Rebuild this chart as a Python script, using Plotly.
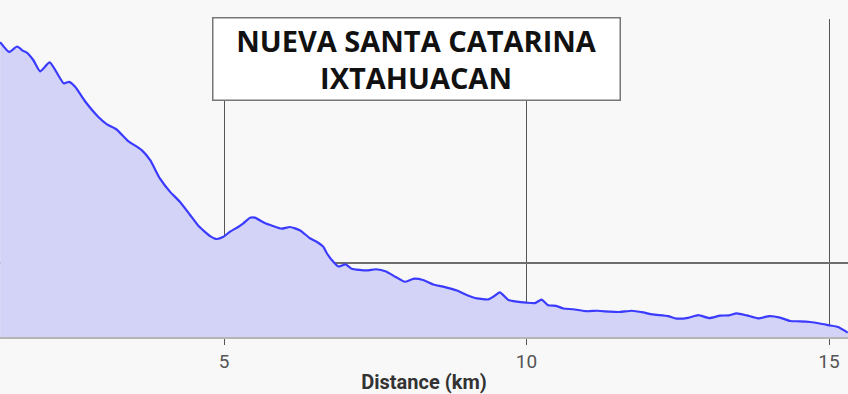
import plotly.graph_objects as go

distance_km = [
    1.30, 1.45, 1.58, 1.68, 1.74, 1.85, 1.96, 2.12, 2.35, 2.44, 2.54, 2.70, 2.92, 3.06, 3.23,
    3.41, 3.64, 3.78, 3.94, 4.11, 4.27, 4.44, 4.58, 4.77, 4.88, 4.99, 5.10, 5.24, 5.32, 5.43,
    5.51, 5.68, 5.81, 5.95, 6.09, 6.26, 6.42, 6.55, 6.64, 6.70, 6.81, 6.89, 7.01, 7.11, 7.36,
    7.51, 7.68, 7.84, 7.99, 8.13, 8.29, 8.46, 8.62, 8.85, 9.01, 9.18, 9.37, 9.45, 9.56, 9.70,
    9.84, 10.00, 10.14, 10.25, 10.36, 10.49, 10.61, 10.77, 11.00, 11.18, 11.38, 11.55, 11.74,
    11.93, 12.08, 12.34, 12.48, 12.67, 12.84, 13.02, 13.20, 13.35, 13.47, 13.64, 13.83, 14.02,
    14.19, 14.36, 14.52, 14.69, 14.85, 15.02, 15.15, 15.31,
]
elevation_m = [
    2401, 2361, 2383, 2365, 2358, 2327, 2282, 2318, 2233, 2239, 2219, 2161, 2097, 2067, 2044,
    1999, 1961, 1920, 1846, 1791, 1751, 1697, 1652, 1611, 1599, 1608, 1629, 1649, 1663, 1686,
    1686, 1663, 1652, 1641, 1648, 1634, 1602, 1585, 1568, 1541, 1505, 1487, 1496, 1478, 1471,
    1476, 1467, 1444, 1425, 1437, 1432, 1414, 1405, 1389, 1371, 1357, 1353, 1364, 1382, 1351,
    1344, 1340, 1338, 1352, 1329, 1327, 1316, 1313, 1305, 1307, 1303, 1302, 1307,
    1300, 1292, 1285, 1275, 1278, 1289, 1277, 1287, 1288, 1296, 1288, 1276, 1285,
    1279, 1265, 1264, 1261, 1255, 1247, 1241, 1218,
]
x_tick_values = [5, 10, 15]
y_grid_values = [1500]
title_lines = ["NUEVA SANTA CATARINA", "IXTAHUACAN"]
x_axis_title = "Distance (km)"

fig = go.Figure()
fig.add_trace(go.Scatter(
    x=distance_km, y=elevation_m, mode="lines",
    line=dict(color="#3b3bff", width=2.2, shape="spline", smoothing=0.5),
    fill="tozeroy", fillcolor="#d3d3f7",
    hoverinfo="skip", showlegend=False,
))

fig.update_layout(
    width=848, height=394,
    margin=dict(l=0, r=0, t=19, b=57, autoexpand=False),
    paper_bgcolor="#f8f8f8", plot_bgcolor="#f8f8f8",
    font=dict(family="Roboto", color="#444"),
    xaxis=dict(
        range=[1.2975, 15.314], tickvals=x_tick_values, ticks="outside", ticklen=6,
        tickcolor="#555", tickwidth=1, showgrid=True, gridcolor="#555", gridwidth=1,
        showline=True, linecolor="#b5b5b5", linewidth=1.5, zeroline=False,
        automargin=False,
        tickfont=dict(family="Roboto", size=19, color="#555"),
        title=dict(text="<b>" + x_axis_title + "</b>", standoff=4,
                   font=dict(family="Roboto", size=20, color="#333")),
    ),
    yaxis=dict(
        range=[1200, 2495], tickvals=y_grid_values, showticklabels=False,
        showgrid=True, gridcolor="#6e6e6e", gridwidth=1.5, zeroline=False, showline=False,
        automargin=False,
    ),
    annotations=[dict(
        text="<b>" + "<br>".join(title_lines) + "</b>",
        xref="paper", yref="paper", x=0.4908, y=0.8755,
        xanchor="center", yanchor="middle", showarrow=False,
        font=dict(family="Open Sans", size=29, color="#111"),
        bgcolor="white", bordercolor="#777", borderwidth=1.5, borderpad=4,
        width=398, height=73,
    )],
)

fig.write_html("out.html", config={"displayModeBar": False},
               post_script="document.body.style.margin='0';")
